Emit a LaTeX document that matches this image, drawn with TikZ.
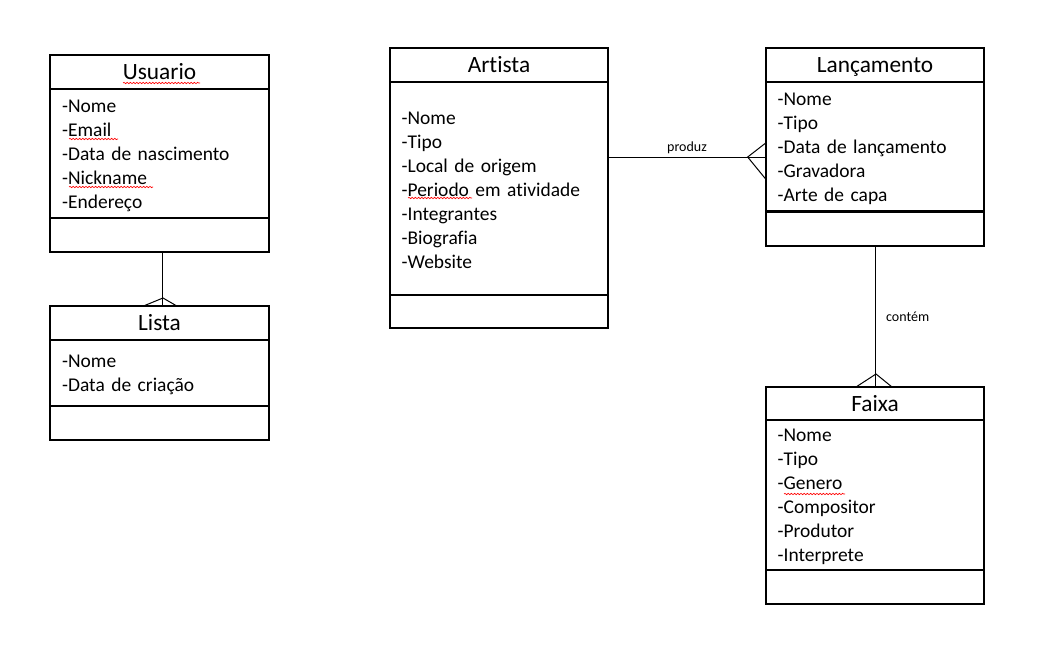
\documentclass[tikz,border=0pt]{standalone}
\usepackage{fontspec}
\setmainfont{Carlito}[Ligatures=NoCommon]
\usetikzlibrary{positioning,decorations.pathmorphing}
\begin{document}
\begin{tikzpicture}[x=0.75pt, y=-0.75pt, node distance=0pt,
class title/.style={draw, line width=1.5pt, outer sep=0pt, minimum width=164pt, minimum height=25.5pt, inner sep=0pt, text height=11.3pt, text depth=0pt, font=\fontsize{17.5}{21}\selectfont},
class attr/.style={draw, line width=1.5pt, outer sep=0pt, minimum width=164pt, text width=146pt, inner xsep=9pt, inner ysep=0pt, align=left, font=\fontsize{14.6}{18}\selectfont, execute at begin node=\strut},
class ops/.style={draw, line width=1.5pt, outer sep=0pt, minimum width=164pt, minimum height=25.5pt},
rel label/.style={font=\fontsize{10.5}{12}\selectfont, inner sep=2pt},
spell/.style={red, line width=0.5pt, decorate, decoration={snake, amplitude=0.5pt, segment length=2.4pt}}]
\useasboundingbox (0,0) rectangle (1049,659);
% classes
\begin{scope}
\node[class title] (usuario) at (159.5,72) {Usuario};
\node[class attr, minimum height=96.75pt, below=of usuario] (usuarioA) {-Nome\\-Email\\-Data de nascimento\\-Nickname\\-Endereço};
\node[class ops, below=of usuarioA] (usuarioM) {};
\node[class title] (lista) at (159.5,323) {Lista};
\node[class attr, minimum height=49.5pt, below=of lista] (listaA) {-Nome\\-Data de criação};
\node[class ops, below=of listaA] (listaM) {};
\node[class title] (artista) at (499,65) {Artista};
\node[class attr, minimum height=159.75pt, below=of artista] (artistaA) {-Nome\\-Tipo\\-Local de origem\\-Periodo em atividade\\-Integrantes\\-Biografia\\-Website};
\node[class ops, minimum height=24.75pt, below=of artistaA] (artistaM) {};
\node[class title] (lancamento) at (875,65) {Lançamento};
\node[class attr, minimum height=96.75pt, below=of lancamento] (lancamentoA) {-Nome\\-Tipo\\-Data de lançamento\\-Gravadora\\-Arte de capa};
\node[class ops, below=1pt of lancamentoA] (lancamentoM) {};
\node[class title, minimum height=24.75pt] (faixa) at (875,403.5) {Faixa};
\node[class attr, minimum height=112.5pt, below=of faixa] (faixaA) {-Nome\\-Tipo\\-Genero\\-Compositor\\-Produtor\\-Interprete};
\node[class ops, below=of faixaA] (faixaM) {};
\end{scope}
% relations
\begin{scope}[line width=0.75pt]
\draw ([xshift=2.6pt]usuarioM.south) -- ([xshift=2.6pt]lista.north);
\draw ([xshift=-12pt]lista.north) -- ([xshift=2.6pt,yshift=6pt]lista.north) -- ([xshift=13pt]lista.north);
\coordinate (prod) at ([yshift=23.6pt]artistaA.east);
\draw (prod) -- node[above, rel label] {produz} (prod -| lancamentoA.west);
\draw ([yshift=10.5pt]prod -| lancamentoA.west) -- ([xshift=-13.5pt]prod -| lancamentoA.west) -- ([yshift=-16.5pt]prod -| lancamentoA.west);
\draw (lancamentoM.south) -- node[right=6pt, rel label] {contém} (faixa.north);
\draw ([xshift=-14.25pt]faixa.north) -- ([xshift=0.75pt,yshift=9.75pt]faixa.north) -- ([xshift=12.75pt]faixa.north);
\end{scope}
% spelling marks
\draw[spell] (123,83) -- (200,83);
\draw[spell] (69,139) -- (118,139);
\draw[spell] (69,187) -- (153,187);
\draw[spell] (408,198) -- (472,198);
\draw[spell] (784,494) -- (845,494);
\end{tikzpicture}
\end{document}
